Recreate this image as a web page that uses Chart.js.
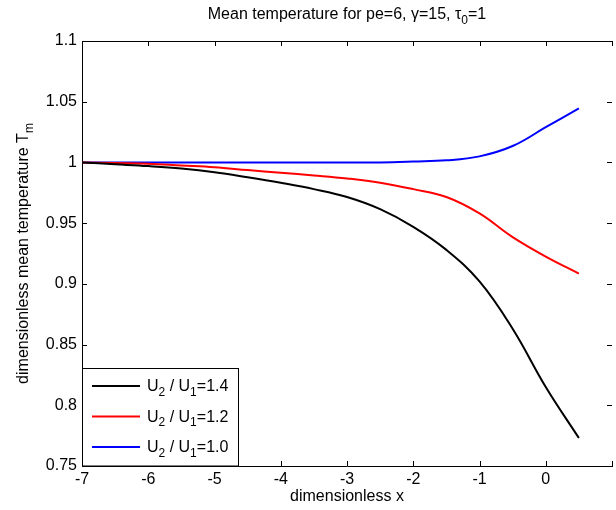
<!DOCTYPE html>
<html>
<head>
<meta charset="utf-8">
<script src="https://cdn.jsdelivr.net/npm/chart.js@4.4.0/dist/chart.umd.min.js"></script>
<style>
  html, body { margin: 0; padding: 0; background: #fff; }
  #wrap { width: 616px; height: 510px; }
</style>
</head>
<body>
<div id="wrap"><canvas id="tempChart"></canvas></div>
<script>
// x positions
const xs = [-7, -6.5, -6, -5.5, -5, -4.5, -4, -3.5, -3, -2.5, -2, -1.5, -1, -0.5, 0, 0.5];

// dimensionless mean temperature for each velocity ratio
const t14 = [1.000, 0.9985, 0.997, 0.995, 0.992, 0.9878, 0.9832, 0.978, 0.9715, 0.9615, 0.947, 0.928, 0.902, 0.863, 0.815, 0.773];
const t12 = [1.000, 0.9995, 0.999, 0.9975, 0.996, 0.9937, 0.9915, 0.9893, 0.9868, 0.9833, 0.978, 0.9715, 0.958, 0.9385, 0.9225, 0.9085];
const t10 = [1.000, 1.000, 1.000, 1.000, 1.000, 1.000, 1.000, 1.000, 1.000, 1.000, 1.0007, 1.0017, 1.005, 1.0135, 1.029, 1.0445];

const ratios = ["1.4", "1.2", "1.0"];
const colors = ["#000000", "#ff0000", "#0000ff"];

const xTicks = [-7, -6, -5, -4, -3, -2, -1, 0, 1];
const yTicks = [0.75, 0.8, 0.85, 0.9, 0.95, 1, 1.05, 1.1];

const FONT = "'Liberation Sans', Arial, Helvetica, sans-serif";

function pts(ys) {
  return xs.map((x, i) => ({ x: x, y: ys[i] }));
}

// draw text made of normal / subscript pieces
function richWidth(ctx, parts, size) {
  let w = 0;
  parts.forEach(p => {
    ctx.font = (p[1] ? size * 0.75 : size) + "px " + FONT;
    w += ctx.measureText(p[0]).width;
  });
  return w;
}
function drawRich(ctx, parts, x, y, size, align) {
  let w = richWidth(ctx, parts, size);
  let cx = align === "center" ? x - w / 2 : x;
  ctx.textBaseline = "alphabetic";
  ctx.textAlign = "left";
  parts.forEach(p => {
    const s = p[1] ? size * 0.75 : size;
    ctx.font = s + "px " + FONT;
    ctx.fillText(p[0], cx, p[1] ? y + size * 0.3 : y);
    cx += ctx.measureText(p[0]).width;
  });
}

const matlabStyle = {
  id: "matlabStyle",
  afterDraw(chart) {
    const ctx = chart.ctx;
    const a = chart.chartArea;
    const xs_ = chart.scales.x, ys_ = chart.scales.y;
    ctx.save();
    ctx.strokeStyle = "#000";
    ctx.fillStyle = "#000";
    ctx.lineWidth = 1;

    // frame: top line (left/bottom from the library borders)
    ctx.beginPath();
    ctx.moveTo(a.left, a.top + 0.5);
    ctx.lineTo(a.right, a.top + 0.5);
    ctx.stroke();

    // inward ticks
    const tl = 5;
    ctx.beginPath();
    xTicks.forEach(v => {
      const px = Math.round(xs_.getPixelForValue(v)) + 0.5;
      ctx.moveTo(px, a.bottom); ctx.lineTo(px, a.bottom - tl);
      ctx.moveTo(px, a.top); ctx.lineTo(px, a.top + tl);
    });
    yTicks.forEach(v => {
      const py = Math.round(ys_.getPixelForValue(v)) + 0.5;
      ctx.moveTo(a.left, py); ctx.lineTo(a.left + tl, py);
      ctx.moveTo(a.right, py); ctx.lineTo(a.right - tl, py);
    });
    ctx.stroke();

    // title
    drawRich(ctx, [["Mean temperature for pe=6, \u03b3=15, \u03c4", false], ["0", true], ["=1", false]],
      (a.left + a.right) / 2, 19, 16, "center");

    // x axis title
    drawRich(ctx, [["dimensionless x", false]], (a.left + a.right) / 2, 501, 16, "center");

    // y axis title (rotated)
    ctx.save();
    ctx.translate(28, (a.top + a.bottom) / 2);
    ctx.rotate(-Math.PI / 2);
    drawRich(ctx, [["dimensionless mean temperature T", false], ["m", true]], 0, 0, 16, "center");
    ctx.restore();

    // legend box
    const lx = a.left, ly = 368, lw = 156, lh = a.bottom - 368;
    ctx.fillStyle = "#fff";
    ctx.fillRect(lx, ly, lw, lh);
    ctx.strokeStyle = "#000";
    ctx.lineWidth = 1;
    ctx.strokeRect(lx + 0.5, ly + 0.5, lw, lh - 0.5);
    chart.data.datasets.forEach((ds, i) => {
      const yy = 386 + i * 30.5;
      ctx.strokeStyle = ds.borderColor;
      ctx.lineWidth = 2;
      ctx.beginPath();
      ctx.moveTo(lx + 10, yy);
      ctx.lineTo(lx + 58, yy);
      ctx.stroke();
      ctx.fillStyle = "#000";
      drawRich(ctx, [["U", false], ["2", true], [" / U", false], ["1", true], ["=" + ratios[i], false]],
        lx + 65, yy + 5, 16, "left");
    });
    ctx.restore();
  }
};

const ctx = document.getElementById("tempChart").getContext("2d");
new Chart(ctx, {
  type: "line",
  data: {
    datasets: ratios.map((r, i) => ({
      label: "U2 / U1=" + r,
      data: pts([t14, t12, t10][i]),
      borderColor: colors[i],
      borderWidth: 2,
      pointRadius: 0,
      fill: false,
      tension: 0.4,
    })),
  },
  options: {
    responsive: true,
    maintainAspectRatio: false,
    animation: false,
    layout: { padding: { top: 41, right: 0, left: 0, bottom: 0 } },
    plugins: {
      legend: { display: false },
      title: { display: false },
      tooltip: { enabled: false },
    },
    scales: {
      x: {
        type: "linear",
        min: -7,
        max: 1,
        afterFit: s => { s.height = 44; },
        afterBuildTicks: s => { s.ticks = xTicks.map(v => ({ value: v })); },
        grid: { display: false, drawTicks: false },
        border: { display: true, color: "#000", width: 1 },
        ticks: {
          padding: 4,
          color: "#000",
          font: { family: FONT, size: 16 },
          maxRotation: 0,
          callback: v => (v === 1 ? "" : String(v)),
        },
      },
      y: {
        type: "linear",
        min: 0.75,
        max: 1.1,
        afterFit: s => { s.width = 82; },
        afterBuildTicks: s => { s.ticks = yTicks.map(v => ({ value: v })); },
        grid: { display: false, drawTicks: false },
        border: { display: true, color: "#000", width: 1 },
        ticks: {
          padding: 5,
          color: "#000",
          font: { family: FONT, size: 16 },
          callback: v => String(+v.toFixed(2)),
        },
      },
    },
  },
  plugins: [matlabStyle],
});
</script>
</body>
</html>
